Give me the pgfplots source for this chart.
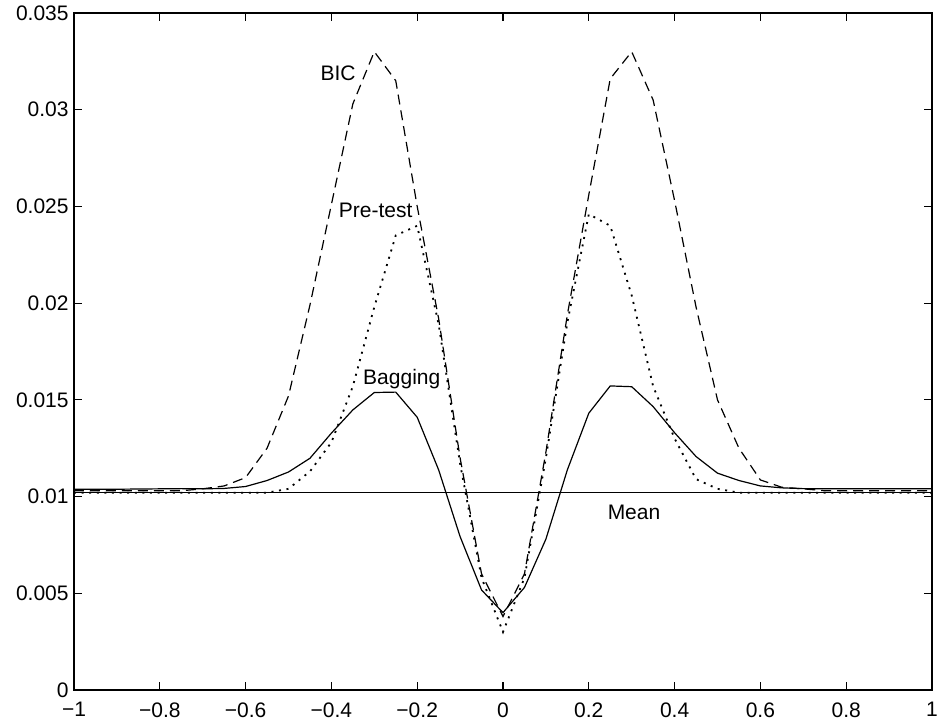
\documentclass[border=0pt]{standalone}
\usepackage{fontspec}
\setmainfont{Liberation Sans}
\usepackage{pgfplots}
\pgfplotsset{compat=1.18}
\begin{document}
\fontsize{10.5bp}{12bp}\selectfont
\begin{tikzpicture}
\begin{axis}[
  at={(0,0)}, anchor=south west,
  scale only axis, width=429bp, height=338.5bp,
  xmin=-1, xmax=1, ymin=0, ymax=0.035,
  xtick={-1,-0.8,-0.6,-0.4,-0.2,0,0.2,0.4,0.6,0.8,1},
  xticklabels={−1,−0.8,−0.6,−0.4,−0.2,0,0.2,0.4,0.6,0.8,1},
  ytick={0,0.005,0.01,0.015,0.02,0.025,0.03,0.035},
  yticklabels={0,0.005,0.01,0.015,0.02,0.025,0.03,0.035},
  scaled y ticks=false,
  tick align=inside,
  major tick length=4bp,
  axis line style={line width=0.7bp},
  every tick/.style={black, line width=0.6bp},
  tick label style={font=\fontsize{10.5bp}{12bp}\selectfont},
  xticklabel style={yshift=-2.5bp},
  yticklabel style={xshift=1bp},
]
% Mean
\addplot[black, line width=0.6bp] coordinates {(-1,0.0102) (1,0.0102)};
% Bagging
\addplot[black, line width=0.6bp] coordinates {
(-1,0.01038) (-0.95,0.01038) (-0.9,0.01038) (-0.85,0.01039) (-0.8,0.0104) (-0.75,0.01041) (-0.7,0.0104)
(-0.65,0.01042) (-0.6,0.01052) (-0.55,0.01083) (-0.5,0.01127) (-0.45,0.01198) (-0.4,0.01328)
(-0.35,0.01448) (-0.3,0.01538) (-0.25,0.0154) (-0.2,0.0141) (-0.15,0.01138) (-0.1,0.00793)
(-0.05,0.00517) (0,0.0040) (0.05,0.0053) (0.1,0.0078) (0.15,0.01138) (0.2,0.01431)
(0.25,0.01572) (0.3,0.01568) (0.35,0.01465) (0.4,0.0133) (0.45,0.01207) (0.5,0.01121)
(0.55,0.01083) (0.6,0.01055) (0.65,0.01045) (0.7,0.01041) (0.75,0.0104) (0.8,0.0104)
(0.85,0.0104) (0.9,0.0104) (0.95,0.0104) (1,0.0104)};
% BIC
\addplot[black, line width=0.6bp, dash pattern=on 5bp off 3bp] coordinates {
(-1,0.0103) (-0.95,0.0103) (-0.9,0.0103) (-0.85,0.0103) (-0.8,0.0103) (-0.75,0.0103) (-0.7,0.0104)
(-0.65,0.01055) (-0.6,0.01098) (-0.55,0.0125) (-0.5,0.0152) (-0.45,0.0199) (-0.4,0.0251)
(-0.35,0.0303) (-0.3,0.0330) (-0.25,0.0315) (-0.2,0.0250) (-0.15,0.0192) (-0.1,0.0120)
(-0.05,0.0060) (0,0.0038) (0.05,0.0060) (0.1,0.0123) (0.15,0.0194) (0.2,0.0256)
(0.25,0.0316) (0.3,0.0330) (0.35,0.0305) (0.4,0.0253) (0.45,0.0198) (0.5,0.0150)
(0.55,0.0125) (0.6,0.01086) (0.65,0.01048) (0.7,0.0104) (0.75,0.0103) (0.8,0.0103)
(0.85,0.0103) (0.9,0.0103) (0.95,0.0103) (1,0.0103)};
% Pre-test
\addplot[black, line width=0.9bp, dash pattern=on 1bp off 2.8bp] coordinates {
(-1,0.0102) (-0.95,0.0102) (-0.9,0.0102) (-0.85,0.0102) (-0.8,0.0102) (-0.75,0.0102) (-0.7,0.0102)
(-0.65,0.0102) (-0.6,0.0102) (-0.55,0.0102) (-0.5,0.0104) (-0.45,0.0113) (-0.4,0.0128)
(-0.35,0.0157) (-0.3,0.0198) (-0.25,0.0235) (-0.2,0.0240) (-0.15,0.0189) (-0.1,0.0117)
(-0.05,0.0058) (0,0.0030) (0.05,0.0058) (0.1,0.0120) (0.15,0.0190) (0.2,0.0246)
(0.25,0.0240) (0.3,0.0204) (0.35,0.0157) (0.4,0.0130) (0.45,0.0109) (0.5,0.0104)
(0.55,0.0102) (0.6,0.0102) (0.65,0.0102) (0.7,0.0102) (0.75,0.0102) (0.8,0.0102)
(0.85,0.0102) (0.9,0.0102) (0.95,0.0102) (1,0.0102)};
\node at (axis cs:-0.3846,0.03186) {BIC};
\node at (axis cs:-0.2967,0.02477) {Pre-test};
\node at (axis cs:-0.236,0.01608) {Bagging};
\node at (axis cs:0.3054,0.00917) {Mean};
\end{axis}
\pgfresetboundingbox
\path[use as bounding box] (-37bp,-16.5bp) rectangle (431.5bp,345bp);
\end{tikzpicture}
\end{document}
